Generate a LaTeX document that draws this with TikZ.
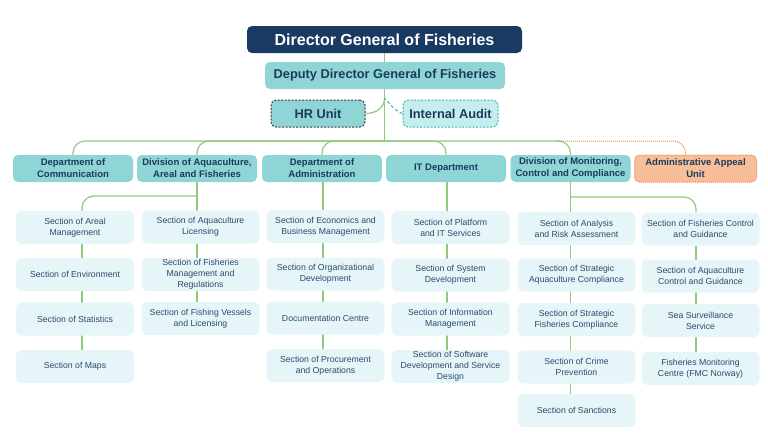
\documentclass[tikz,border=0pt]{standalone}
\usepackage{fontspec}
\setmainfont{Liberation Sans}
\usetikzlibrary{backgrounds}
\definecolor{dirfill}{HTML}{183A63}
\definecolor{depfill}{HTML}{8FD5D5}
\definecolor{deptext}{HTML}{1B3A5E}
\definecolor{secfill}{HTML}{E6F5F7}
\definecolor{sectext}{HTML}{2D4A6E}
\definecolor{hrline}{HTML}{3A3A3A}
\definecolor{iafill}{HTML}{C6EDEE}
\definecolor{ialine}{HTML}{3DB4B8}
\definecolor{appfill}{HTML}{F7BE98}
\definecolor{appline}{HTML}{E8894A}
\definecolor{green}{HTML}{8DCB7A}
\begin{document}
\begin{tikzpicture}[x=1pt,y=-1pt,
  base/.style={rounded corners=5pt, inner sep=0pt, align=center},
  dirbox/.style={base, fill=dirfill, text=white, font=\fontsize{16}{19}\selectfont\bfseries, minimum width=275pt, minimum height=27pt},
  depbox/.style={base, fill=depfill, text=deptext, font=\fontsize{12.8}{15}\selectfont\bfseries, minimum height=27pt},
  deptbox/.style={base, fill=depfill, text=deptext, font=\fontsize{9.5}{12}\selectfont\bfseries, minimum width=120pt, minimum height=27pt},
  secbox/.style={base, rounded corners=6pt, fill=secfill, text=sectext, font=\fontsize{8.7}{10.8}\selectfont, minimum width=118pt, minimum height=33pt},
  conn/.style={draw=green, line width=1.2pt},
  iaconn/.style={draw=ialine, line width=1.1pt, dash pattern=on 3pt off 2.5pt},
  appconn/.style={draw=appline, line width=1pt, dash pattern=on 1pt off 1pt}]
\useasboundingbox (0,0) rectangle (768,432);

% top
\node[dirbox] (dir) at (384.5,39.5) {Director General of Fisheries};
\node[depbox, minimum width=240pt] (dep) at (385,75.5) {Deputy Director General of Fisheries};
\node[depbox, draw=hrline, line width=1pt, dash pattern=on 2pt off 1.5pt, minimum width=94pt] (hr) at (318,113.5) {HR Unit};
\node[depbox, fill=iafill, draw=ialine, line width=1pt, dash pattern=on 2pt off 1.5pt, minimum width=95pt] (ia) at (450.5,113.5) {Internal Audit};

% departments
\node[deptbox] (d1) at (73,168.5) {Department of\\Communication};
\node[deptbox] (d2) at (197,168.5) {Division of Aquaculture,\\Areal and Fisheries};
\node[deptbox] (d3) at (322,168.5) {Department of\\Administration};
\node[deptbox] (d4) at (446,168.5) {IT Department};
\node[deptbox] (d5) at (570.5,168.5) {Division of Monitoring,\\Control and Compliance};
\node[deptbox, fill=appfill, draw=appline, line width=1pt, dash pattern=on 1pt off 1pt, minimum width=122pt] (d6) at (695.5,168.5) {Administrative Appeal\\Unit};

% sections col 1
\node[secbox] (s11) at (75,227.5) {Section of Areal\\Management};
\node[secbox] (s12) at (75,274.5) {Section of Environment};
\node[secbox] (s13) at (75,319) {Section of Statistics};
\node[secbox] (s14) at (75,366.5) {Section of Maps};
% col 2
\node[secbox] (s21) at (200.5,227) {Section of Aquaculture\\Licensing};
\node[secbox] (s22) at (200.5,274.5) {Section of Fisheries\\Management and\\Regulations};
\node[secbox] (s23) at (200.5,318.5) {Section of Fishing Vessels\\and Licensing};
% col 3
\node[secbox] (s31) at (325.5,226.5) {Section of Economics and\\Business Management};
\node[secbox] (s32) at (325.5,274) {Section of Organizational\\Development};
\node[secbox] (s33) at (325.5,318) {Documentation Centre};
\node[secbox] (s34) at (325.5,365.5) {Section of Procurement\\and Operations};
% col 4
\node[secbox] (s41) at (450.5,227.5) {Section of Platform\\and IT Services};
\node[secbox] (s42) at (450.5,275) {Section of System\\Development};
\node[secbox] (s43) at (450.5,319) {Section of Information\\Management};
\node[secbox] (s44) at (450.5,366.5) {Section of Software\\Development and Service\\Design};
% col 5
\node[secbox] (s51) at (576.5,228.5) {Section of Analysis\\and Risk Assessment};
\node[secbox] (s52) at (576.5,275) {Section of Strategic\\Aquaculture Compliance};
\node[secbox] (s53) at (576.5,319.5) {Section of Strategic\\Fisheries Compliance};
\node[secbox] (s54) at (576.5,367) {Section of Crime\\Prevention};
\node[secbox] (s55) at (576.5,410.5) {Section of Sanctions};
% col 6
\node[secbox] (s61) at (700.5,229) {Section of Fisheries Control\\and Guidance};
\node[secbox] (s62) at (700.5,276) {Section of Aquaculture\\Control and Guidance};
\node[secbox] (s63) at (700.5,320.5) {Sea Surveillance\\Service};
\node[secbox] (s64) at (700.5,368.5) {Fisheries Monitoring\\Centre (FMC Norway)};

\coordinate (hub) at (384.5,141);
\coordinate (hrj) at (384.5,98);
\coordinate (oj) at (557,141);
\coordinate (b1) at (197,196);
\coordinate (b5) at (570.5,197);

\begin{pgfonlayer}{background}
\draw[conn] (dir.south) -- (hub);
\draw[conn] (hr.east) .. controls (377,113.5) and (384.5,107) .. (hrj);
\draw[iaconn] (ia.west) .. controls (396,112) and (389,103) .. (hrj);
\foreach \d in {d1,d2,d3,d4,d5}
  \draw[conn, rounded corners=12pt] (hub) -| (\d.north);
\draw[appconn, rounded corners=12pt] (oj) -| ([xshift=-10pt]d6.north);
% col 2 + branch to col 1
\draw[conn] (d2.south) -- (d2.south |- s23.north);
\draw[conn, rounded corners=12pt] (b1) -| ([xshift=7pt]s11.north);
\draw[conn] ([xshift=7pt]s11.south) -- ([xshift=7pt]s14.north);
% col 3, col 4
\draw[conn] ([xshift=1pt]d3.south) -- ([xshift=1pt]d3.south |- s34.north);
\draw[conn] ([xshift=1pt]d4.south) -- ([xshift=1pt]d4.south |- s44.north);
% col 5 + branch to col 6
\draw[conn] (d5.south) -- (d5.south |- s55.north);
\draw[conn, rounded corners=12pt] (b5) -| ([xshift=-4.5pt]s61.north);
\draw[conn] ([xshift=-4.5pt]s61.south) -- ([xshift=-4.5pt]s64.north);
\end{pgfonlayer}
\end{tikzpicture}
\end{document}
